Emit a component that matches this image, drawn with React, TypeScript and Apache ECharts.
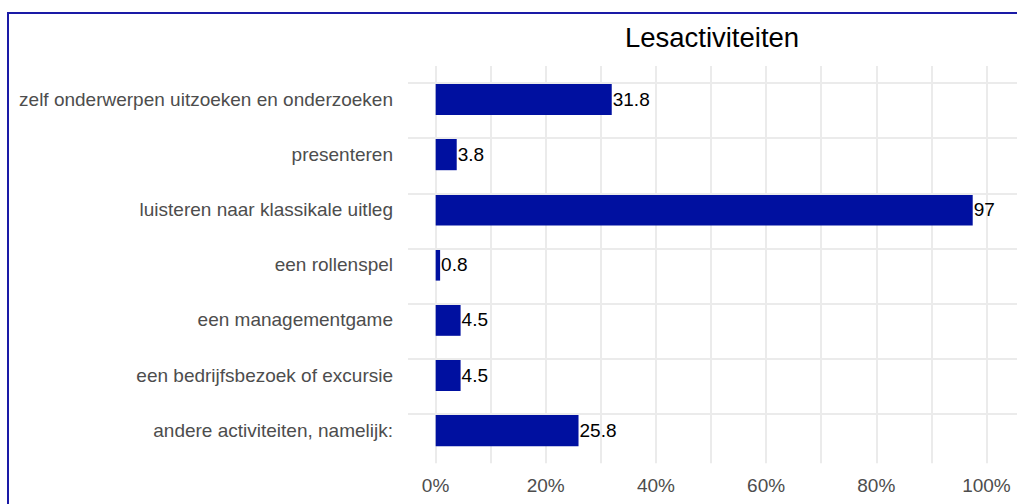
import React, { useEffect, useRef } from "react";
import * as echarts from "echarts";

const categories = [
  "zelf onderwerpen uitzoeken en onderzoeken",
  "presenteren",
  "luisteren naar klassikale uitleg",
  "een rollenspel",
  "een managementgame",
  "een bedrijfsbezoek of excursie",
  "andere activiteiten, namelijk:",
];
const values = [31.8, 3.8, 97, 0.8, 4.5, 4.5, 25.8];
const valueLabels = ["31.8", "3.8", "97", "0.8", "4.5", "4.5", "25.8"];
const titleText = "Lesactiviteiten";

const FONT = "'Liberation Sans', Arial, sans-serif";
const GRID_COLOR = "#ebebeb";

export default function App() {
  const ref = useRef<HTMLDivElement>(null);
  useEffect(() => {
    if (!ref.current) return;
    const chart = echarts.init(ref.current, undefined, { renderer: "svg" });
    chart.setOption({
      animation: false,
      title: {
        text: titleText,
        left: 707,
        top: 18,
        textAlign: "center",
        textStyle: { fontFamily: FONT, fontSize: 27.5, fontWeight: "normal", color: "#000" },
      },
      grid: [
        { left: 408, right: 0, top: 71.4, bottom: 46.2 },
        { left: 408, right: 0, top: 66, bottom: 40.7 },
      ],
      xAxis: [
        {
          gridIndex: 0,
          type: "value",
          min: -5,
          max: 105,
          interval: 5,
          show: false,
          splitLine: { show: false },
        },
        {
          gridIndex: 1,
          type: "value",
          min: -5,
          max: 105,
          interval: 5,
          axisLine: { show: false },
          axisTick: { show: false },
          splitLine: {
            show: true,
            lineStyle: { color: ["rgba(0,0,0,0)", GRID_COLOR], width: 2 },
          },
          axisLabel: {
            margin: 13,
            color: "#4d4d4d",
            fontFamily: FONT,
            fontSize: 19,
            formatter: (v: number) => (v >= 0 && v <= 100 && v % 20 === 0 ? v + "%" : ""),
          },
        },
      ],
      yAxis: [
        {
          gridIndex: 0,
          type: "category",
          data: categories,
          inverse: true,
          axisLine: { show: false },
          axisTick: { show: false },
          splitLine: { show: false },
          axisLabel: {
            margin: 15,
            color: "#4d4d4d",
            fontFamily: FONT,
            fontSize: 19,
          },
        },
        {
          gridIndex: 1,
          type: "value",
          show: false,
          min: 0,
          max: 1,
          splitLine: { show: false },
        },
      ],
      series: [
        {
          type: "bar",
          xAxisIndex: 0,
          yAxisIndex: 0,
          data: [],
          z: 1,
          silent: true,
          markLine: {
            silent: true,
            symbol: "none",
            label: { show: false },
            lineStyle: { color: GRID_COLOR, width: 2, type: "solid" },
            data: categories.map((c) => ({ yAxis: c })),
          },
        },
        {
          type: "bar",
          xAxisIndex: 0,
          yAxisIndex: 0,
          z: 3,
          barWidth: "58%",
          itemStyle: { color: "#0010A0" },
          data: values,
          label: {
            show: true,
            position: "right",
            distance: 1,
            color: "#000",
            fontFamily: FONT,
            fontSize: 19,
            formatter: (p: any) => valueLabels[p.dataIndex],
          },
        },
      ],
    });
    return () => chart.dispose();
  }, []);

  return (
    <div
      style={{
        position: "fixed",
        left: 0,
        top: 0,
        width: 1017,
        height: 504,
        overflow: "hidden",
        background: "#fff",
      }}
    >
      <div
        style={{
          position: "absolute",
          left: 7,
          top: 12,
          width: 1200,
          height: 700,
          border: "2px solid #1a1aa6",
          boxSizing: "border-box",
        }}
      />
      <div ref={ref} style={{ position: "absolute", left: 0, top: 0, width: 1017, height: 504 }} />
    </div>
  );
}
